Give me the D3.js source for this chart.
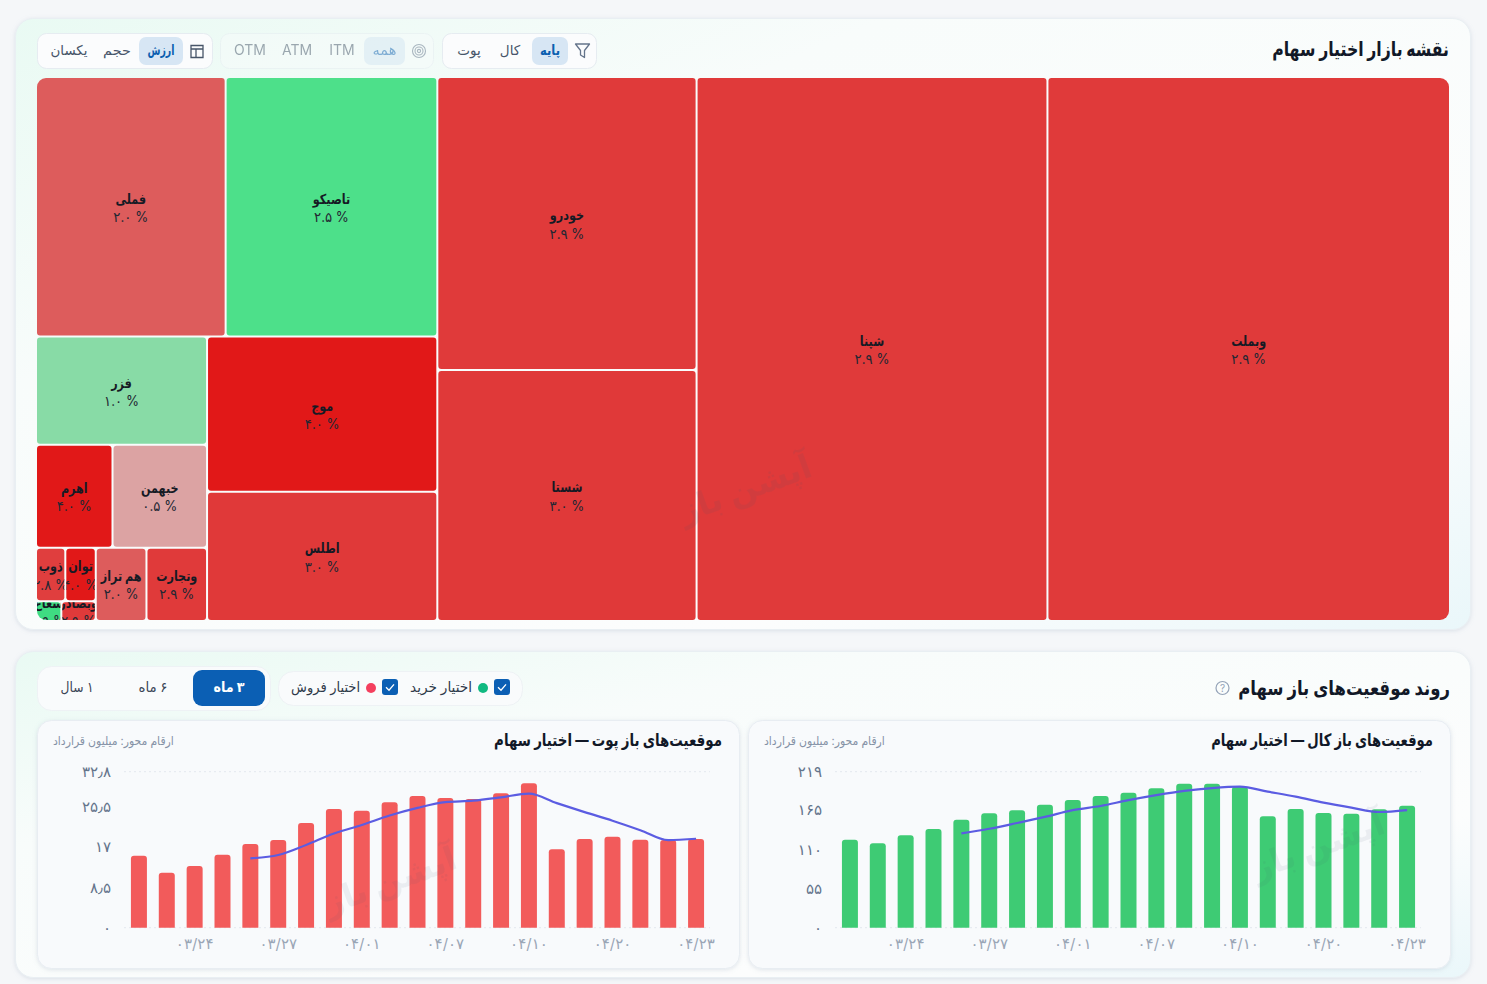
<!DOCTYPE html>
<html lang="fa">
<head>
<meta charset="utf-8">
<title>نقشه بازار اختیار سهام</title>
<script src="https://cdn.jsdelivr.net/npm/d3@7/dist/d3.min.js"></script>
<style>
  html, body { margin: 0; padding: 0; background: #f5f7f9; overflow: hidden; }
  svg { display: block; }
  text { font-family: "Inter", "Roboto", "DejaVu Sans", sans-serif; }
</style>
</head>
<body>
<svg id="page" width="1487" height="984"></svg>
<script>
// Treemap: option contract value per underlying, with the change shown on each cell
const symbols = ["وبملت","شپنا","خودرو","شستا","تاصیکو","فملی","موج","اطلس","فزر","خبهمن","اهرم","وتجارت","هم تراز","توان","ذوب","وبصادر","شعاع"];
const symbolValues = [218, 190, 75.6, 64.8, 54.7, 49, 35.6, 29.6, 18.4, 9.7, 7.85, 4.42, 3.7, 1.62, 1.56, 0.68, 0.5];
const symbolChanges = [-2.9, -2.9, -2.9, -3.0, 2.5, -2.0, -4.0, -3.0, 1.0, -0.5, -4.0, -2.9, -2.0, -4.0, -2.8, -2.9, 7.9];

// Open interest series, one entry per trading day
const tradeDates = ["03/22","03/23","03/24","03/25","03/26","03/27","03/28","03/31","04/01","04/02","04/06","04/07","04/08","04/09","04/10","04/13","04/17","04/20","04/21","04/22","04/23"];
const callBars = [123.5,118.5,129.7,138.6,151.6,160.6,164.8,172.7,179.3,184.9,189.5,195.7,202.2,202.2,198,156.4,166.6,161,160,166.2,171.3];
const callAverage = [null,null,null,null,132.4,138.9,147,155.5,165,170.9,179,186,192,196,198,191,184,175.5,168.5,162.4,165];
const putBars = [15.14,11.56,12.97,15.35,17.6,18.44,22.01,24.96,24.6,26.37,27.69,27.27,27.06,28.26,30.36,16.48,18.65,19.13,18.5,18.44,18.65];
const putAverage = [null,null,null,null,14.59,15.29,17.4,19.8,21.6,23.6,25.2,26.4,26.7,27.4,28.2,26.2,24.3,22.5,20.5,18.4,18.7];
const callTicks = [0,55,110,165,219];
const putTicks = [0,8.5,17,25.5,32.8];

const faDigits = "۰۱۲۳۴۵۶۷۸۹";
const toFa = s => String(s).replace(/\d/g, d => faDigits[d]);
const INK = "#111827";

const svg = d3.select("#page");
const defs = svg.append("defs");

const cardGrad = defs.append("linearGradient").attr("id","cardGrad")
  .attr("x1","0").attr("y1","0").attr("x2","1").attr("y2","1");
cardGrad.append("stop").attr("offset","0").attr("stop-color","#e9faf3");
cardGrad.append("stop").attr("offset","0.3").attr("stop-color","#f8fcfb");
cardGrad.append("stop").attr("offset","0.75").attr("stop-color","#fcfdfd");
cardGrad.append("stop").attr("offset","1").attr("stop-color","#eaf7fa");

const shadow = defs.append("filter").attr("id","soft").attr("x","-5%").attr("y","-5%").attr("width","110%").attr("height","110%");
shadow.append("feDropShadow").attr("dx",0).attr("dy",1).attr("stdDeviation",2).attr("flood-color","#94a3b8").attr("flood-opacity",0.28);

function panel(g, x, y, w, h, r, fill, stroke, filter) {
  const el = g.append("rect").attr("x",x).attr("y",y).attr("width",w).attr("height",h).attr("rx",r)
    .attr("fill",fill).attr("stroke",stroke || "none");
  if (filter) el.attr("filter","url(#soft)");
  return el;
}
// Text helper; `width` squeezes the run horizontally to a set measure, `squeeze` by a fixed factor
function label(g, x, y, str, o = {}) {
  const el = g.append("text").attr("transform",`translate(${x},${y})`).text(str)
    .attr("text-anchor",o.anchor || "middle").attr("dominant-baseline","central")
    .attr("direction",o.dir || "rtl")
    .attr("font-size",o.size || 13).attr("font-weight",o.weight || 400)
    .attr("fill",o.fill || "#475569");
  let sx = o.squeeze || 1;
  if (o.width) sx = o.width / el.node().getComputedTextLength();
  if (sx !== 1) el.attr("transform",`translate(${x},${y}) scale(${sx},1)`);
  return el;
}

// Outer cards
panel(svg, 15.5, 18.5, 1455, 611, 18, "url(#cardGrad)", "#e9eff3", true);
panel(svg, 15.5, 651.5, 1455, 326, 18, "url(#cardGrad)", "#e9eff3", true);

/* ---------- treemap toolbar ---------- */
const bar = svg.append("g");
label(bar, 1449, 49, "نقشه بازار اختیار سهام", {anchor:"start", size:20, weight:700, fill:INK, width:177});

function toolbarGroup(x, w, opacity, fill) {
  return svg.append("g").attr("opacity",opacity).call(g =>
    panel(g, x+0.5, 33.5, w, 35, 9, fill, "#e6ecf1"));
}
function pill(g, x, w, str, weight, textWidth) {
  panel(g, x, 37, w, 28, 7, "#d7e6f4");
  label(g, x + w/2, 50, str, {weight:weight, fill:"#0b5fb0", size:14, width:textWidth});
}

const typeGroup = toolbarGroup(442, 154, 1, "#fbfcfd");
pill(typeGroup, 532, 36, "پایه", 700, 20);
label(typeGroup, 510, 50, "کال", {size:13.5});
label(typeGroup, 469, 50, "پوت", {size:13.5});
typeGroup.append("path").attr("transform","translate(575,43)")
  .attr("d","M0.5 1H14.5L9.5 7.5V14.5L5.5 12V7.5Z").attr("fill","none").attr("stroke","#64748b").attr("stroke-width",1.3).attr("stroke-linejoin","round");

const moneyGroup = toolbarGroup(220, 213, 0.5, "#f7fbfb");
pill(moneyGroup, 364, 41, "همه", 400, 24);
label(moneyGroup, 342, 49.5, "ITM", {dir:"ltr", size:14});
label(moneyGroup, 297, 49.5, "ATM", {dir:"ltr", size:14});
label(moneyGroup, 250, 49.5, "OTM", {dir:"ltr", size:14});
[6.5,4,1.6].forEach(r => moneyGroup.append("circle").attr("cx",419).attr("cy",51).attr("r",r)
  .attr("fill","none").attr("stroke","#64748b").attr("stroke-width",1.1));

const sizeGroup = toolbarGroup(37, 175, 1, "#fbfcfd");
pill(sizeGroup, 139, 44, "ارزش", 700, 27);
label(sizeGroup, 117, 50, "حجم", {size:13.5, width:28});
label(sizeGroup, 69, 50, "یکسان", {size:13.5, width:37});
sizeGroup.append("path").attr("transform","translate(190,44.5)")
  .attr("d","M1 1H13V13H1ZM1 4.5H13M6 4.5V13").attr("fill","none").attr("stroke","#475569").attr("stroke-width",1.3);

/* ---------- treemap ---------- */
const mapX = 37, mapY = 78, mapW = 1412, mapH = 542;
const root = d3.hierarchy({children: symbols.map((name,i) => ({name, value:symbolValues[i], change:symbolChanges[i]}))})
  .sum(d => d.value || 0);
d3.treemap().size([mapW,mapH]).paddingInner(2).tile(d3.treemapSquarify.ratio(1))(root);

// The largest cell sits on the right, so the tiling runs along a reversed x scale
const mapXScale = d3.scaleLinear().domain([0,mapW]).range([mapX+mapW,mapX]);
const mapYScale = d3.scaleLinear().domain([0,mapH]).range([mapY,mapY+mapH]);
const lossColor = d3.scaleLinear().domain([0.5,2,2.9,3,4]).range(["#dca3a3","#dd5c5c","#e03a3a","#e03939","#e11818"]);
const gainColor = d3.scaleLinear().domain([1,2.5,7.9]).range(["#88dba6","#4de08a","#3fdc82"]);
const cellColor = c => c < 0 ? lossColor(-c) : gainColor(c);

defs.append("clipPath").attr("id","mapClip").append("rect")
  .attr("x",mapX).attr("y",mapY).attr("width",mapW).attr("height",mapH).attr("rx",9);

const cells = svg.append("g").attr("clip-path","url(#mapClip)")
  .selectAll("g").data(root.leaves()).join("g");
cells.each(function(d,i) {
  const g = d3.select(this);
  const x = mapXScale(d.x1), w = mapXScale(d.x0) - x;
  const y = mapYScale(d.y0), h = mapYScale(d.y1) - y;
  g.append("clipPath").attr("id",`cell${i}`).append("rect").attr("x",x).attr("y",y).attr("width",w).attr("height",h);
  g.append("rect").attr("x",x).attr("y",y).attr("width",w).attr("height",h).attr("rx",3).attr("fill",cellColor(d.data.change));
  const t = g.append("g").attr("clip-path",`url(#cell${i})`);
  label(t, x+w/2, y+h/2-8, d.data.name, {size:14, weight:700, fill:"#161a24", squeeze:0.8});
  label(t, x+w/2, y+h/2+10, `${toFa(Math.abs(d.data.change).toFixed(1))} %`, {size:14, dir:"ltr", fill:"#232733", squeeze:0.95});
});

function watermark(cx, cy, opacity) {
  svg.append("text").attr("transform",`translate(${cx},${cy}) rotate(-20)`).text("آپشن باز")
    .attr("text-anchor","middle").attr("dominant-baseline","central").attr("direction","rtl")
    .attr("font-size",33).attr("font-weight",700).attr("fill","#475569").attr("opacity",opacity);
}
watermark(745, 488, 0.09);

/* ---------- open interest header ---------- */
label(svg, 1450, 687.5, "روند موقعیت‌های باز سهام", {anchor:"start", size:20, weight:700, fill:INK, width:212});
svg.append("circle").attr("cx",1222.5).attr("cy",688).attr("r",6.5).attr("fill","none").attr("stroke","#94a3b8").attr("stroke-width",1.2);
label(svg, 1222.5, 688, "?", {size:10, dir:"ltr", fill:"#94a3b8"});

const seriesBox = svg.append("g");
panel(seriesBox, 278.5, 671.5, 244, 34, 15, "#f9fbfc", "#eef2f5");
function seriesToggle(boxX, dotX, textX, dotColor, str, textWidth) {
  panel(seriesBox, boxX, 679, 16, 16, 3, "#0b5fb4");
  seriesBox.append("path").attr("transform",`translate(${boxX},679)`).attr("d","M4 8.3L7 11.2L12 5.4")
    .attr("fill","none").attr("stroke","#fff").attr("stroke-width",1.3);
  seriesBox.append("circle").attr("cx",dotX).attr("cy",688).attr("r",5).attr("fill",dotColor);
  label(seriesBox, textX, 687, str, {anchor:"start", size:14, fill:"#2f3a4a", width:textWidth});
}
seriesToggle(494, 483, 472, "#10b981", "اختیار خرید", 62);
seriesToggle(382, 371, 360, "#f43f5e", "اختیار فروش", 69);

const rangeBox = svg.append("g");
panel(rangeBox, 37.5, 666.5, 233, 44, 14, "#f9fbfc", "#eef2f5");
panel(rangeBox, 193, 670, 72, 36, 9, "#0b5fb4");
label(rangeBox, 229, 687, "۳ ماه", {weight:700, fill:"#fff", size:14, width:31});
label(rangeBox, 153, 687, "۶ ماه", {fill:"#3a4556", size:14, width:29});
label(rangeBox, 77, 687, "۱ سال", {fill:"#3a4556", size:14, width:33});

/* ---------- bar and average charts ---------- */
function barPath(x, w, y0, y1, r) {
  const p = d3.path();
  p.moveTo(x, y0);
  p.lineTo(x, y1 + r);
  p.quadraticCurveTo(x, y1, x + r, y1);
  p.lineTo(x + w - r, y1);
  p.quadraticCurveTo(x + w, y1, x + w, y1 + r);
  p.lineTo(x + w, y0);
  p.closePath();
  return p.toString();
}

function positionChart(o) {
  const g = svg.append("g");
  panel(g, o.cardX + 0.5, 720.5, 702, 248, 14, "#f8fafc", "#e8edf2", true);
  label(g, o.cardX + 685, 740, o.title, {anchor:"start", size:17, weight:700, fill:INK, width:o.titleWidth});
  label(g, o.cardX + 16, 741, "ارقام محور: میلیون قرارداد", {anchor:"end", size:12, fill:"#8592a6", width:121});

  const x = d3.scaleBand().domain(tradeDates).range([o.cardX + 88, o.cardX + 673]).padding(0.426).paddingOuter(0.213);
  const y = d3.scaleLinear().domain([0, o.ticks[o.ticks.length-1]]).range([927.7, 771.7]);

  [o.ticks[0], o.ticks[o.ticks.length-1]].forEach(v => {
    g.append("line").attr("x1",x.range()[0]-1).attr("x2",x.range()[1]).attr("y1",y(v)).attr("y2",y(v))
      .attr("stroke","#e3e8ee").attr("stroke-dasharray","2 3");
  });

  g.append("g").selectAll("path").data(o.bars).join("path")
    .attr("d",(v,i) => barPath(x(tradeDates[i]), x.bandwidth(), y(0), y(v), 3))
    .attr("fill",o.color);

  const line = d3.line().defined(d => d.v !== null).x(d => x(d.date) + x.bandwidth()/2).y(d => y(d.v)).curve(d3.curveMonotoneX);
  g.append("path").datum(o.average.map((v,i) => ({v, date:tradeDates[i]})))
    .attr("d",line).attr("fill","none").attr("stroke","#5b5ce2").attr("stroke-width",2.2);

  const yAxis = d3.axisLeft(y).tickValues(o.ticks).tickSize(0).tickPadding(14)
    .tickFormat(v => toFa(String(v).replace(".","٫")));
  g.append("g").attr("transform",`translate(${x.range()[0]},0)`).call(yAxis)
    .call(a => a.select(".domain").remove())
    .selectAll("text").attr("font-size",15).attr("fill","#64748b").attr("font-family",null);

  const xAxis = d3.axisBottom(x).tickValues(tradeDates.filter((_,i) => i % 3 === 2)).tickSize(0).tickPadding(11)
    .tickFormat(toFa);
  g.append("g").attr("transform","translate(0,927.7)").call(xAxis)
    .call(a => a.select(".domain").remove())
    .selectAll("text").attr("font-size",15).attr("fill","#9aa6b6").attr("font-family",null).attr("direction","ltr");

  watermark(o.cardX + o.markX, o.markY, 0.07);
}

positionChart({cardX:37, title:"موقعیت‌های باز پوت — اختیار سهام", titleWidth:228, bars:putBars, average:putAverage, ticks:putTicks, color:"#f25b5b", markX:353, markY:880});
positionChart({cardX:748, title:"موقعیت‌های باز کال — اختیار سهام", titleWidth:222, bars:callBars, average:callAverage, ticks:callTicks, color:"#3ecb74", markX:570, markY:845});
</script>
</body>
</html>
